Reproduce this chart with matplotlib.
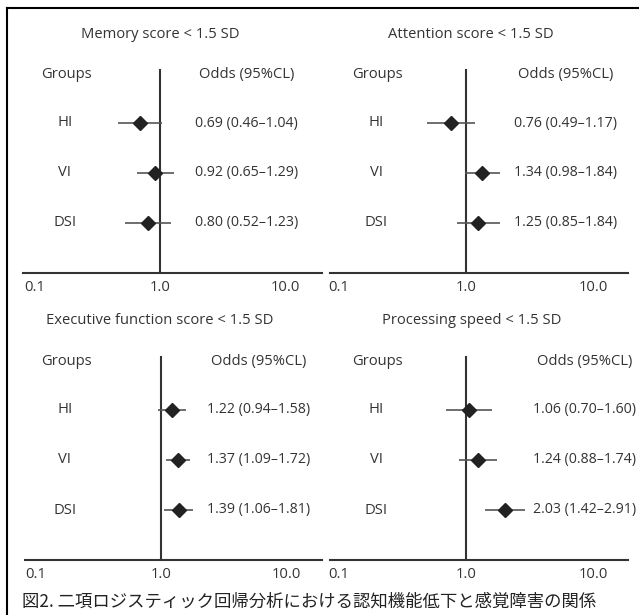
import numpy as np
from matplotlib import pyplot as plt
from matplotlib.lines import Line2D
from matplotlib.transforms import blended_transform_factory

## Data
titles = ['Memory score < 1.5 SD', 'Attention score < 1.5 SD',
          'Executive function score < 1.5 SD', 'Processing speed < 1.5 SD']
groups = ['HI', 'VI', 'DSI']
odds = [[0.69, 0.92, 0.80], [0.76, 1.34, 1.25], [1.22, 1.37, 1.39], [1.06, 1.24, 2.03]]
lower = [[0.46, 0.65, 0.52], [0.49, 0.98, 0.85], [0.94, 1.09, 1.06], [0.70, 0.88, 1.42]]
upper = [[1.04, 1.29, 1.23], [1.17, 1.84, 1.84], [1.58, 1.72, 1.81], [1.60, 1.74, 2.91]]
ticks = [0.1, 1.0, 10.0]
tick_labels = ['0.1', '1.0', '10.0']
caption = '図2. 二項ロジスティック回帰分析における認知機能低下と感覚障害の関係'

plt.rcParams['font.family'] = ['Open Sans', 'DejaVu Sans']
W, H = 639, 615
fig = plt.figure(figsize=(W / 100, H / 100), dpi=100)

# panel layout in pixels: axis left, axis right, axis y, x of 1.0, px per decade
boxes = [(23, 322, 273, 160, 125), (330, 628, 273, 466, 127),
         (25, 322, 560, 161, 125), (330, 628, 560, 466, 127)]
# text x in pixels: title centre, group centre, value left
text_x = [(160, 65, 195), (471, 376, 514), (160, 65, 207), (472, 376, 533)]
row_y = [3, 2, 1]
top = 5.1
txt_col = '#333333'
fs = 10.6
fs_val = 10.2

for i in range(4):
    x0, x1, yb, xone, dec = boxes[i]
    ax = fig.add_axes([x0 / W, 1 - yb / H, (x1 - x0) / W, top * 50 / H])
    ax.set_xscale('log')
    ax.set_xlim(10 ** ((x0 - xone) / dec), 10 ** ((x1 - xone) / dec))
    ax.set_ylim(0, top)
    for s in ['top', 'left', 'right']:
        ax.spines[s].set_visible(False)
    ax.spines['bottom'].set_linewidth(1.5)
    ax.spines['bottom'].set_color('#333333')
    ax.set_yticks([])
    ax.set_xticks(ticks)
    ax.set_xticklabels(tick_labels)
    ax.xaxis.set_minor_locator(plt.NullLocator())
    ax.tick_params(axis='x', length=0, pad=5, labelsize=fs, labelcolor=txt_col)
    ax.patch.set_alpha(0)

    ax.plot([1, 1], [0, 4.06], color='#333333', lw=1.5)
    ax.hlines(row_y, lower[i], upper[i], color='#555555', lw=1.2)
    ax.plot(odds[i], row_y, 'D', color='#222222', ms=7)

    fx = lambda px: (px - x0) / (x1 - x0)
    tx, gx, vx = text_x[i]
    bt = blended_transform_factory(ax.transAxes, ax.transData)
    ax.text(fx(tx), 4.78, titles[i], transform=bt, ha='center', va='center', fontsize=fs, color=txt_col)
    ax.text(fx(gx + 1), 3.97, 'Groups', transform=bt, ha='center', va='center', fontsize=fs, color=txt_col)
    ax.text(fx(vx + 4), 3.97, 'Odds (95%CL)', transform=bt, ha='left', va='center', fontsize=fs,
            color=txt_col, clip_on=False)
    for g, y, o, lo, hi in zip(groups, row_y, odds[i], lower[i], upper[i]):
        ax.text(fx(gx), y, g, transform=bt, ha='center', va='center', fontsize=fs, color=txt_col)
        ax.text(fx(vx), y, f'{o:.2f} ({lo:.2f}–{hi:.2f})', transform=bt, ha='left', va='center',
                fontsize=fs_val, color=txt_col, clip_on=False)

# frame lines on the left and top
fig.add_artist(Line2D([7 / W, 7 / W], [0, 1 - 8 / H], color='black', lw=1.5))
fig.add_artist(Line2D([7 / W, 1], [1 - 8 / H, 1 - 8 / H], color='black', lw=1.5))

fig.text(22 / W, 1 - 602 / H, caption, ha='left', va='center', fontsize=12.5,
         family=['Noto Sans CJK JP', 'DejaVu Sans'], color='#222222')

fig.savefig('out.png', dpi=100)
